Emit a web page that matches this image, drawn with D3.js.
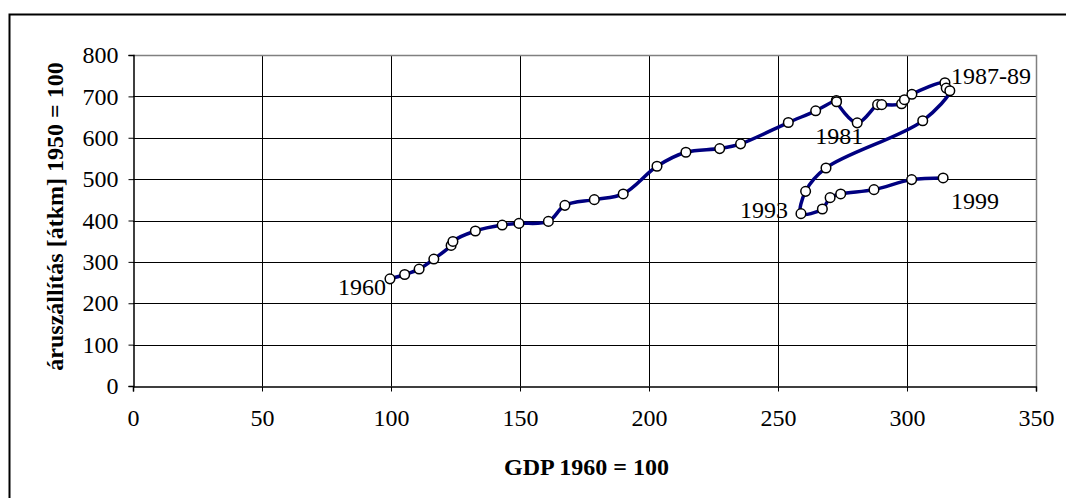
<!DOCTYPE html>
<html>
<head>
<meta charset="utf-8">
<script src="https://cdn.jsdelivr.net/npm/d3@7"></script>
<style>
  html, body { margin: 0; padding: 0; background: #fff; }
  svg { display: block; }
  text { font-family: "Liberation Serif", "Times New Roman", serif; fill: #000; }
</style>
</head>
<body>
<svg id="chart" width="1066" height="498"></svg>
<script>
// ---- data ----
const years = [1960,1961,1962,1963,1964,1965,1966,1967,1968,1969,
               1970,1971,1972,1973,1974,1975,1976,1977,1978,1979,
               1980,1981,1982,1983,1984,1985,1986,1987,1988,1989,
               1990,1991,1992,1993,1994,1995,1996,1997,1998,1999];
const gdp = [99.6,105.3,110.9,116.6,123.3,124.0,132.7,143.1,149.6,161.0,
             167.4,178.8,190.0,203.1,214.3,227.4,235.5,254.0,264.6,272.6,
             272.7,280.7,288.6,290.2,297.9,299.0,301.9,314.7,315.2,316.6,
             306.1,268.6,260.7,258.9,267.2,270.2,274.3,287.2,301.8,314.0];
const freight = [259,269.5,282.6,306.8,339.7,349.4,374.6,389,393,397.8,
                 436.6,450.4,464.2,531,564.9,573.8,585.2,636.8,665.1,690,
                 687,636,680,680,682,692,705,733,720,713.6,
                 641,527,470.5,416.5,427.8,455.2,464.2,474.6,498.8,502.9];
const xTicks = [0,50,100,150,200,250,300,350];
const yTicks = [0,100,200,300,400,500,600,700,800];
const labelTexts = ["1960","1981","1987-89","1993","1999"];
const labelYears = [1960,1981,1987,1993,1999];
const xTitle = "GDP 1960 = 100";
const yTitle = "áruszállítás [átkm] 1950 = 100";

// ---- layout ----
const svg = d3.select("#chart");
const L = 133, R = 1036, T = 55, B = 386;
const x = d3.scaleLinear().domain([0,350]).range([L,R]);
const y = d3.scaleLinear().domain([0,800]).range([B,T]);
const FS = 24;

// outer chart border (only left/top fall inside the picture)
svg.append("rect").attr("x",9.5).attr("y",14.5).attr("width",1070).attr("height",500)
   .attr("fill","none").attr("stroke","#000").attr("stroke-width",2);

// gridlines
const g = svg.append("g");
g.selectAll("line.h").data(yTicks.filter(v=>v>0 && v<800)).join("line")
  .attr("x1",L).attr("x2",R).attr("y1",d=>Math.round(y(d))+0.5).attr("y2",d=>Math.round(y(d))+0.5)
  .attr("stroke","#000").attr("stroke-width",1);
g.selectAll("line.v").data(xTicks.filter(v=>v>0 && v<350)).join("line")
  .attr("y1",T).attr("y2",B).attr("x1",d=>Math.round(x(d))+0.5).attr("x2",d=>Math.round(x(d))+0.5)
  .attr("stroke","#000").attr("stroke-width",1);
// plot border top/right (grey)
g.append("path").attr("d",`M${L},${Math.round(T)+0.5}H${Math.round(R)+0.5}V${B}`)
  .attr("fill","none").attr("stroke","#808080").attr("stroke-width",1.5);

// axes
const yAxis = svg.append("g").attr("transform",`translate(${L+0.5},0)`)
  .call(d3.axisLeft(y).tickValues(yTicks).tickSize(5).tickPadding(10).tickFormat(d3.format("d")));
const xAxis = svg.append("g").attr("transform",`translate(0,${B+0.5})`)
  .call(d3.axisBottom(x).tickValues(xTicks).tickSize(5).tickPadding(10).tickFormat(d3.format("d")));
[yAxis,xAxis].forEach(a=>{
  a.select(".domain").attr("stroke","#000").attr("stroke-width",1.5);
  a.selectAll(".tick line").attr("stroke","#000");
  a.selectAll(".tick text").style("font-family",'"Liberation Serif","Times New Roman",serif')
    .style("font-size",FS+"px").attr("fill","#000");
});
xAxis.selectAll(".tick text").attr("y",39).attr("dy",0);
yAxis.selectAll(".tick text").attr("dy","0.32em");

// axis titles
svg.append("text").attr("x",(L+R)/2+2).attr("y",475).attr("text-anchor","middle")
  .style("font-size",FS+"px").style("font-weight","bold").text(xTitle);
svg.append("text").attr("transform",`translate(63,${(T+B)/2-4}) rotate(-90)`)
  .attr("text-anchor","middle").style("font-size",FS+"px").style("font-weight","bold").text(yTitle);

// series
const pts = years.map((yr,i)=>({yr, gx:gdp[i], fy:freight[i]}));
const line = d3.line().x(d=>x(d.gx)).y(d=>y(d.fy)).curve(d3.curveCatmullRom.alpha(0.5));
svg.append("path").datum(pts).attr("d",line).attr("fill","none")
  .attr("stroke","#000080").attr("stroke-width",3.5).attr("stroke-linejoin","round");
svg.append("g").selectAll("circle").data(pts).join("circle")
  .attr("cx",d=>x(d.gx)).attr("cy",d=>y(d.fy)).attr("r",4.8)
  .attr("fill","#fff").attr("stroke","#000").attr("stroke-width",1.5);

// point annotations
const labelAnchor = ["end","middle","start","end","start"];
const labelDx = [-4,-18,6,-13,8];
const labelDy = [16,21,1,4,31];
labelTexts.forEach((t,i)=>{
  const p = pts[years.indexOf(labelYears[i])];
  svg.append("text").attr("x",x(p.gx)+labelDx[i]).attr("y",y(p.fy)+labelDy[i])
    .attr("text-anchor",labelAnchor[i]).style("font-size",FS+"px").text(t);
});
</script>
</body>
</html>
